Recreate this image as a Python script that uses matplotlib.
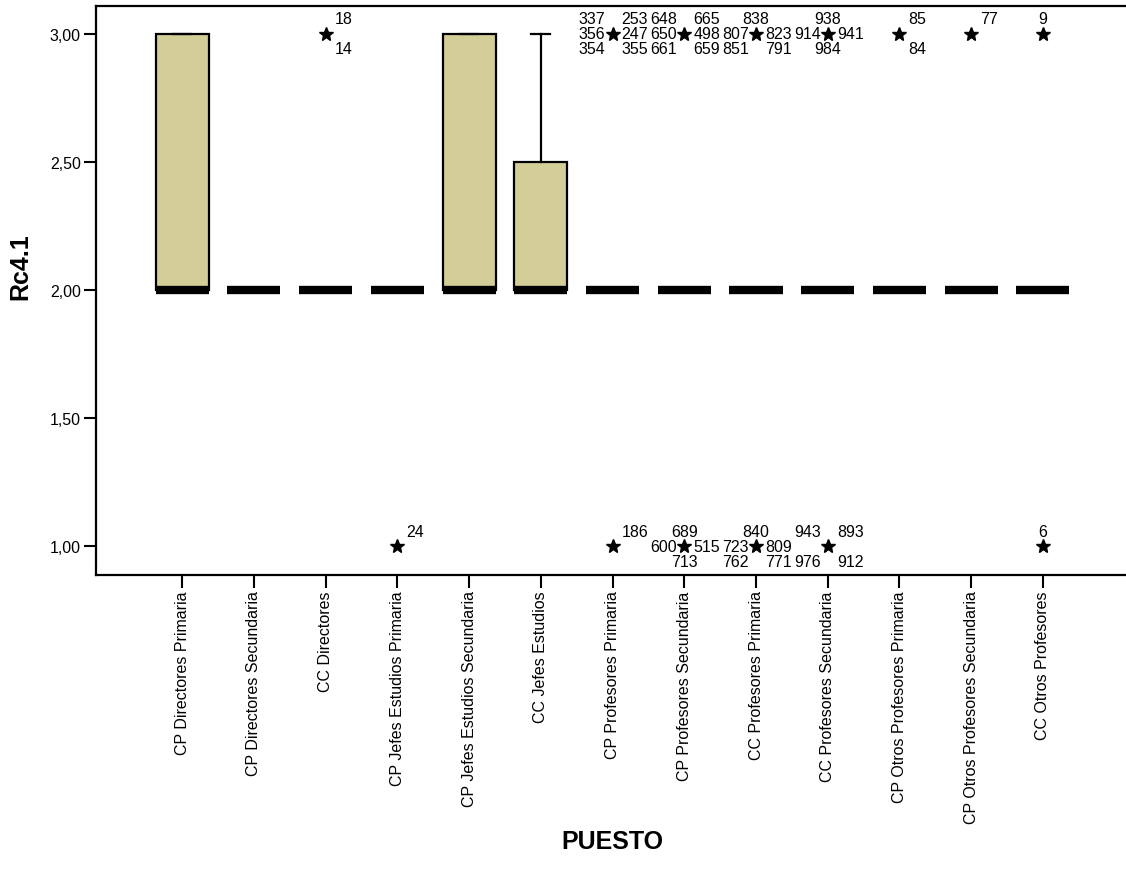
import matplotlib
matplotlib.use("Agg")
import matplotlib.pyplot as plt
from matplotlib.ticker import FuncFormatter

plt.rcParams['font.family'] = ['Liberation Sans', 'DejaVu Sans']

#############--- Datos ---#############
puestos = [
    "CP Directores Primaria", "CP Directores Secundaria", "CC Directores",
    "CP Jefes Estudios Primaria", "CP Jefes Estudios Secundaria", "CC Jefes Estudios",
    "CP Profesores Primaria", "CP Profesores Secundaria", "CC Profesores Primaria",
    "CC Profesores Secundaria", "CP Otros Profesores Primaria",
    "CP Otros Profesores Secundaria", "CC Otros Profesores",
]
q1 = [2, 2, 2, 2, 2, 2, 2, 2, 2, 2, 2, 2, 2]
mediana = [2, 2, 2, 2, 2, 2, 2, 2, 2, 2, 2, 2, 2]
q3 = [3, 2, 2, 2, 3, 2.5, 2, 2, 2, 2, 2, 2, 2]
bigote_inf = [2, 2, 2, 2, 2, 2, 2, 2, 2, 2, 2, 2, 2]
bigote_sup = [3, 2, 2, 2, 3, 3, 2, 2, 2, 2, 2, 2, 2]
extremos = [[], [], [3], [1], [], [], [3, 1], [3, 1], [3, 1], [3, 1], [3], [3], [3, 1]]

# (indice del puesto, valor, caso, posicion de la etiqueta)
etiquetas = [
    (2, 3, "18", "ur"), (2, 3, "14", "lr"),
    (3, 1, "24", "ur"),
    (6, 3, "337", "ul"), (6, 3, "356", "l"), (6, 3, "354", "ll"),
    (6, 3, "253", "ur"), (6, 3, "247", "r"), (6, 3, "355", "lr"),
    (6, 1, "186", "ur"),
    (7, 3, "648", "ul"), (7, 3, "650", "l"), (7, 3, "661", "ll"),
    (7, 3, "665", "ur"), (7, 3, "498", "r"), (7, 3, "659", "lr"),
    (7, 1, "689", "u"), (7, 1, "600", "l"), (7, 1, "713", "d"), (7, 1, "515", "r"),
    (8, 3, "838", "u"), (8, 3, "807", "l"), (8, 3, "851", "ll"),
    (8, 3, "823", "r"), (8, 3, "791", "lr"),
    (8, 1, "840", "u"), (8, 1, "723", "l"), (8, 1, "762", "ll"),
    (8, 1, "809", "r"), (8, 1, "771", "lr"),
    (9, 3, "938", "u"), (9, 3, "914", "l"), (9, 3, "941", "r"), (9, 3, "984", "d"),
    (9, 1, "943", "ul"), (9, 1, "893", "ur"), (9, 1, "976", "ll"), (9, 1, "912", "lr"),
    (10, 3, "85", "ur"), (10, 3, "84", "lr"),
    (11, 3, "77", "ur"),
    (12, 3, "9", "u"), (12, 1, "6", "u"),
]

#############--- Grafico ---#############
fig = plt.figure(figsize=(11.26, 8.79), dpi=100)
ax = fig.add_axes([0.0853, 0.3447, 0.9174, 0.6473])

stats = []
for i, p in enumerate(puestos):
    stats.append(dict(label=p, q1=q1[i], med=mediana[i], q3=q3[i],
                      whislo=bigote_inf[i], whishi=bigote_sup[i], fliers=extremos[i]))

ax.bxp(stats, positions=range(len(puestos)), widths=0.74, capwidths=0.26,
       patch_artist=True,
       boxprops=dict(facecolor='#D3CE98', edgecolor='black', linewidth=1.6),
       medianprops=dict(color='black', linewidth=6, solid_capstyle='butt'),
       whiskerprops=dict(color='black', linewidth=1.6),
       capprops=dict(color='black', linewidth=1.6),
       flierprops=dict(marker='*', markersize=10, markerfacecolor='black',
                       markeredgecolor='black', linestyle='none'))

# desplazamiento (px) y alineacion de cada posicion de etiqueta
desplaz = {
    'u': (0, 15, 'center'), 'd': (0, -15, 'center'),
    'ul': (-7, 15, 'right'), 'l': (-7, 0, 'right'), 'll': (-7, -15, 'right'),
    'ur': (9, 15, 'left'), 'r': (9, 0, 'left'), 'lr': (9, -15, 'left'),
}
for c, v, t, p in etiquetas:
    dx, dy, ha = desplaz[p]
    ax.annotate(t, (c, v), xytext=(dx, dy), textcoords='offset pixels',
                ha=ha, va='center', fontsize=11.5)

ax.set_xlim(-1.2, 13.2)
ax.set_ylim(0.887, 3.109)
ax.set_yticks([1.0, 1.5, 2.0, 2.5, 3.0])
ax.yaxis.set_major_formatter(FuncFormatter(lambda v, pos: f"{v:.2f}".replace('.', ',')))
ax.set_xticks(range(len(puestos)))
ax.set_xticklabels(puestos, rotation=90)

for s in ax.spines.values():
    s.set_linewidth(1.6)
ax.tick_params(direction='out', length=9, width=1.5, labelsize=11.5, pad=2)

ax.set_ylabel("Rc4.1", fontsize=18, fontweight='bold')
ax.yaxis.set_label_coords(-0.062, 0.543)
ax.set_xlabel("PUESTO", fontsize=18, fontweight='bold')
ax.xaxis.set_label_coords(0.5, -0.446)

fig.savefig("out.png", dpi=100)
